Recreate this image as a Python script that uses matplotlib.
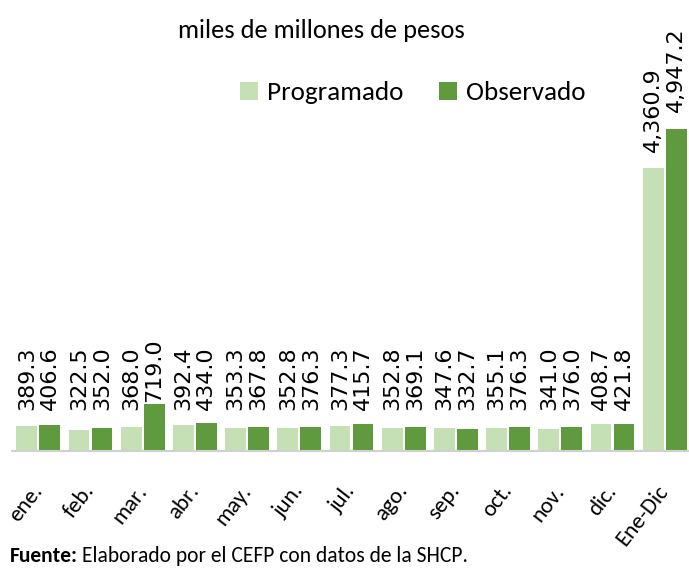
import numpy as np
import matplotlib
matplotlib.use("Agg")
import matplotlib.pyplot as plt
from matplotlib import font_manager

meses = ["ene.", "feb.", "mar.", "abr.", "may.", "jun.", "jul.",
         "ago.", "sep.", "oct.", "nov.", "dic.", "Ene-Dic"]
programado = [389.3, 322.5, 368.0, 392.4, 353.3, 352.8, 377.3,
              352.8, 347.6, 355.1, 341.0, 408.7, 4360.9]
observado = [406.6, 352.0, 719.0, 434.0, 367.8, 376.3, 415.7,
             369.1, 332.7, 376.3, 376.0, 421.8, 4947.2]

c_prog = "#c5e0b4"
c_obs = "#5f9a3f"

# fuente tipo Calibri
names = {f.name for f in font_manager.fontManager.ttflist}
narrow = "Carlito" if "Carlito" in names else "DejaVu Sans"

fig = plt.figure(figsize=(6.89, 5.69), dpi=100)
ax = fig.add_axes([12 / 689, 118 / 569, 677 / 689, 451 / 569])

x = np.arange(len(meses))
w = 0.40
off = 0.22
ax.bar(x - off, programado, w, color=c_prog, label="Programado")
ax.bar(x + off, observado, w, color=c_obs, label="Observado")

for xi, v in zip(x - off, programado):
    ax.text(xi, max(v * 1.055, 631), f"{v:,.1f}", rotation=90, ha="center",
            va="bottom", fontsize=16, family="DejaVu Sans")
for xi, v in zip(x + off, observado):
    ax.text(xi, max(v * 1.055, 631), f"{v:,.1f}", rotation=90, ha="center",
            va="bottom", fontsize=16, family="DejaVu Sans")

ax.set_xlim(-(38.3 - 12) / 52.2, (689 - 38.3) / 52.2)
ax.set_ylim(0, 6938)
for s in ["top", "right", "left"]:
    ax.spines[s].set_visible(False)
ax.spines["bottom"].set_color("#d0d0d0")
ax.spines["bottom"].set_linewidth(1.5)
ax.set_yticks([])
ax.set_xticks(x)
ax.set_xticklabels(meses, rotation=52, ha="right", va="center",
                   rotation_mode="anchor", fontsize=16.5, family=narrow)
ax.tick_params(axis="x", length=0, pad=26)

fig.text(321 / 689, 1 - 30 / 569, "miles de millones de pesos", ha="center",
         va="center", fontsize=19, family=narrow)
fig.legend(loc="center", bbox_to_anchor=(413 / 689, 1 - 93 / 569), ncol=2,
           frameon=False, prop={"family": narrow, "size": 19.5},
           handlelength=0.65, handleheight=0.65, handletextpad=0.35,
           columnspacing=1.3)

fb = fig.text(10 / 689, 1 - 556 / 569, "Fuente:", fontsize=15.5, family=narrow,
              weight="bold", va="center")
fig.canvas.draw()
bb = fb.get_window_extent()
fig.text((bb.x1 + 4) / 689, 1 - 556 / 569, "Elaborado por el CEFP con datos de la SHCP.",
         fontsize=15.5, family=narrow, va="center")

fig.savefig("out.png", dpi=100)
